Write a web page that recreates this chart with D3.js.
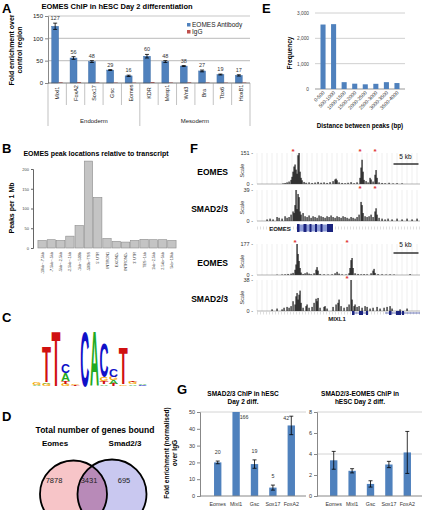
<!DOCTYPE html>
<html><head><meta charset="utf-8">
<script src="https://cdn.jsdelivr.net/npm/d3@7"></script>
<style>body{margin:0;background:#fff} svg{display:block;font-family:"Liberation Sans",Arial,sans-serif}</style>
</head><body><svg id="c" width="424" height="510"></svg>
<script>
// ---------- DATA ----------
// Panel A
const aCategories = ["Mixl1","FoxA2","Sox17","Gsc","Eomes","KDR","Mesp1","Wnt3","Bra","Tbx6","HoxB1"];
const aGroups = [{name:"Endoderm", first:"Mixl1", last:"Eomes"},{name:"Mesoderm", first:"KDR", last:"HoxB1"}];
const aEomes = [127,56,48,29,16,60,48,38,27,19,17];
const aEomesErr = [7,3,2,1,1.5,4,2,1,2,1,1.5];
const aIgG = [1.5,2,1.2,1,0.8,2,1.2,1.5,1.2,0.8,1];
const aTicks = [0,50,100,150];
// Panel E
const eCategories = ["0-500","500-1000","1000-1500","1500-2000","2000-2500","2500-3000","3000-3500","3500-4000"];
const eValues = [2545,2560,270,210,185,205,270,235];
const eTicks = [0,1000,2000,3000];
// Panel B
const bCategories = ["-10kb~-7.5kb","-7.5kb~-5kb","-5kb~-2.5kb","-2.5kb~-1kb","-1kb~-500b","-500b~TSS","5' UTR","INTRON1","EXON2+","INTRON2+","3' UTR","TES~1kb","1kb~2.5kb","2.5kb~5kb","5kb~10kb"];
const bValues = [19,21,19,30,57,220,128,24,17,15,19,22,21,21,19];
const bTicks = [0,50,100,150,200];
// Panel C (sequence logo: letters stacked bottom->top, heights in bits)
const logoColumns = [
  [["A",0.05],["G",0.07]],
  [["G",0.08],["A",0.05],["T",1.25]],
  [["T",1.95]],
  [["G",0.07],["T",0.1],["A",0.28],["C",0.33]],
  [["T",0.05],["G",0.05]],
  [["C",1.95]],
  [["A",1.97]],
  [["A",0.06],["T",0.1],["G",0.14],["C",1.2]],
  [["T",0.08],["A",0.12],["G",0.12],["C",0.28]],
  [["G",0.06],["T",1.3]],
  [["A",0.06],["G",0.08],["T",0.05]],
  [["C",0.05],["A",0.05]]
];
const logoColors = {A:"#22aa22", C:"#1010c8", G:"#f5a800", T:"#d01010"};
// Panel D
const vennSets = ["Eomes","Smad2/3"];
const vennCounts = [7878, 3431, 695];
// Panel F (signal tracks, [kb, signal])
const trackLabels = ["EOMES","SMAD2/3","EOMES","SMAD2/3"];
const trackScales = [151,39,177,38];
const eomesLocusEomes = [[5.2,3],[5.6,5],[6.0,8],[6.4,12],[6.8,20],[7.0,35],[7.2,60],[7.4,85],[7.6,95],[7.8,70],[8.0,50],[8.2,140],[8.4,151],[8.6,60],[8.8,30],[9.0,18],[9.4,10],[9.8,6],[10.4,8],[11.0,5],[11.6,7],[12.2,10],[12.8,6],[13.4,8],[14.0,5],[14.6,9],[15.2,14],[15.6,22],[15.8,26],[16.0,18],[16.4,8],[17.0,5],[17.6,4],[18.2,6],[18.8,9],[19.4,4],[20.0,8],[20.6,30],[20.8,80],[21.0,118],[21.2,60],[21.4,20],[21.8,14],[22.2,8],[22.6,30],[22.8,22],[23.2,12],[23.6,45],[23.8,68],[24.0,30],[24.4,8],[25.0,5],[25.6,4],[26.4,6],[27.2,3],[28.0,4],[29.0,3]];
const eomesLocusSmad = [[2.0,2],[2.6,3],[3.2,2],[4.0,5],[4.4,4],[5.0,3],[5.6,6],[6.0,4],[6.4,5],[6.8,8],[7.2,12],[7.4,10],[7.6,20],[7.8,39],[8.0,15],[8.2,34],[8.4,30],[8.6,12],[8.8,8],[9.2,10],[9.6,6],[10.0,5],[10.4,7],[10.8,4],[11.2,6],[11.6,5],[12.0,4],[12.4,7],[12.8,6],[13.2,5],[13.6,4],[14.0,6],[14.4,5],[14.8,7],[15.2,5],[15.6,4],[16.0,6],[16.4,5],[16.8,4],[17.2,6],[17.6,5],[18.0,4],[18.4,3],[18.8,5],[19.2,4],[19.6,3],[20.0,5],[20.4,8],[20.8,24],[21.0,20],[21.2,10],[21.6,6],[22.0,5],[22.4,6],[22.8,8],[23.2,5],[23.6,12],[23.8,16],[24.0,8],[24.4,4],[25.0,3],[25.6,2],[26.2,3],[27.0,2],[28.0,3],[29.0,2],[30.0,3],[31.0,2],[32.0,3]];
const mixl1LocusEomes = [[4.0,2],[5.0,3],[5.6,4],[6.2,6],[6.8,8],[7.2,12],[7.6,30],[7.8,60],[8.0,177],[8.2,120],[8.4,80],[8.6,40],[8.8,14],[9.2,6],[9.6,10],[10.0,15],[10.4,8],[10.8,5],[11.4,10],[11.8,30],[12.0,45],[12.2,25],[12.6,6],[13.4,4],[14.2,3],[15.0,4],[15.6,10],[16.0,18],[16.4,8],[17.0,4],[17.8,3],[18.4,10],[18.6,40],[18.8,85],[19.0,97],[19.2,40],[19.6,10],[20.2,6],[20.8,4],[21.4,5],[22.0,4],[22.8,10],[23.2,25],[23.4,35],[23.6,12],[24.2,5],[25.0,4],[25.8,3],[26.6,4],[27.4,3],[30.6,5]];
const mixl1LocusSmad = [[3.0,2],[4.0,3],[5.0,2],[5.4,4],[6.0,5],[6.4,4],[6.8,6],[7.2,12],[7.6,8],[7.8,18],[8.0,22],[8.2,14],[8.4,20],[8.6,25],[8.8,10],[9.2,4],[9.8,6],[10.0,8],[10.4,4],[11.0,5],[11.4,10],[11.8,15],[12.0,12],[12.2,16],[12.6,4],[13.4,5],[13.6,6],[14.0,3],[15.2,5],[15.8,8],[16.2,10],[16.4,14],[16.8,6],[17.4,4],[18.0,5],[18.4,8],[18.8,38],[19.0,14],[19.4,6],[19.6,8],[20.0,5],[20.4,6],[21.0,4],[21.6,6],[22.0,5],[22.6,3],[23.2,4],[24.0,5],[24.6,3],[25.4,4],[26.0,5],[26.6,6],[27.0,3],[28.6,2],[30.0,3]];
const trackAsterisks = [[7.2,20.6,23.6],[20.6,23.6],[7.6,18],[18]];
// Panel G
const gCategories = ["Eomes","Mixl1","Gsc","Sox17","FoxA2"];
const gSmadValues = [20,166,19,5,42];
const gSmadErr = [0.8,0,2.5,1.5,5.5];
const gSmadTicks = [0,10,20,30,40,50];
const gComboValues = [3.4,2.4,1.15,3.0,4.15];
const gComboErr = [0.85,0.2,0.3,0.3,2.0];
const gComboTicks = [0,2,4,6,8];

// ---------- HELPERS ----------
const svg = d3.select("#c");
function txt(g, x, y, s, o = {}) {
  const t = g.append("text").attr("x", x).attr("y", y).text(s)
    .attr("font-size", o.size || 7).attr("text-anchor", o.anchor || "middle")
    .attr("fill", o.fill || "#000");
  if (o.bold) t.attr("font-weight", "bold");
  if (o.rotate) t.attr("transform", `rotate(${o.rotate},${x},${y})`);
  return t;
}
function styleAxis(g, size, color) {
  g.attr("font-size", size).attr("font-family", null);
  g.selectAll("text").attr("fill", color || "#222");
}
function errBars(g, xs, ys, errs, y, cap) {
  xs.forEach((x, i) => {
    if (!errs[i]) return;
    const y1 = y(ys[i] - errs[i]), y2 = y(ys[i] + errs[i]);
    g.append("line").attr("x1", x).attr("x2", x).attr("y1", y1).attr("y2", y2).attr("stroke", "#000").attr("stroke-width", 0.8);
    [y1, y2].forEach(yy => g.append("line").attr("x1", x - cap).attr("x2", x + cap).attr("y1", yy).attr("y2", yy).attr("stroke", "#000").attr("stroke-width", 0.8));
  });
}
// panel letters
[["A",2,13],["E",262,13],["B",2,153],["F",190,153],["C",2,322],["D",2,421],["G",177,394]].forEach(([l,x,y]) =>
  txt(svg, x, y, l, {size: 13, bold: true, anchor: "start"}));

// ---------- PANEL A ----------
{
  const g = svg.append("g");
  const x = d3.scaleBand().domain(aCategories).range([48, 250]);
  const y = d3.scaleLinear().domain([0, 150]).range([83, 16]);
  g.selectAll(".gl").data(aTicks.slice(1)).join("line")
    .attr("x1", 48).attr("x2", 250).attr("y1", y).attr("y2", y).attr("stroke", "#c8c8c8").attr("stroke-width", 1.2);
  const ya = g.append("g").attr("transform", "translate(48,0)").call(d3.axisLeft(y).tickValues(aTicks).tickSize(3).tickPadding(2));
  styleAxis(ya, 6); ya.select(".domain").attr("stroke", "#888"); ya.selectAll(".tick line").attr("stroke", "#888");
  txt(g, 117, 9, "EOMES ChIP in hESC Day 2 differentiation", {size: 7.5, bold: true});
  txt(g, 14, 50, "Fold enrichment over", {size: 7, bold: true, rotate: -90});
  txt(g, 22, 50, "control region", {size: 7, bold: true, rotate: -90});
  const bw = x.bandwidth();
  g.selectAll(".be").data(aEomes).join("rect")
    .attr("x", (d, i) => x(aCategories[i]) + bw * 0.2).attr("width", bw * 0.38)
    .attr("y", d => y(d)).attr("height", d => y(0) - y(d)).attr("fill", "#4f81bd").attr("stroke", "#3d6da6").attr("stroke-width", 0.4);
  g.selectAll(".bi").data(aIgG).join("rect")
    .attr("x", (d, i) => x(aCategories[i]) + bw * 0.58).attr("width", bw * 0.22)
    .attr("y", d => y(d)).attr("height", d => y(0) - y(d)).attr("fill", "#c0504d");
  const cx = aCategories.map(c => x(c) + bw * 0.39);
  errBars(g, cx, aEomes, aEomesErr, y, 2);
  aEomes.forEach((v, i) => txt(g, cx[i], y(v + aEomesErr[i]) - 3, v, {size: 5.5, fill: "#333"}));
  g.append("line").attr("x1", 48).attr("x2", 250).attr("y1", y(0)).attr("y2", y(0)).attr("stroke", "#555").attr("stroke-width", 0.8);
  const bounds = aCategories.map(c => x(c)).concat([x.range()[1]]);
  const groupEdges = [x(aGroups[0].first), x(aGroups[1].first), x.range()[1]];
  bounds.forEach(b => g.append("line").attr("x1", b).attr("x2", b).attr("y1", 83)
    .attr("y2", groupEdges.includes(b) ? 126 : 105).attr("stroke", "#999").attr("stroke-width", 0.6));
  aCategories.forEach(c => txt(g, x(c) + bw / 2 + 2, 93, c, {size: 5.5, rotate: -90, fill: "#222"}));
  aGroups.forEach(gr => txt(g, (x(gr.first) + x(gr.last) + bw) / 2, 123, gr.name, {size: 6, fill: "#222"}));
  g.append("rect").attr("x", 184).attr("y", 20).attr("width", 72).attr("height", 16).attr("fill", "#fff");
  [["EOMES Antibody", "#4f81bd"], ["IgG", "#c0504d"]].forEach(([n, col], i) => {
    g.append("rect").attr("x", 187).attr("y", 23 + i * 7).attr("width", 3.5).attr("height", 3.5).attr("fill", col);
    txt(g, 192, 27 + i * 7, n, {size: 6.5, anchor: "start", fill: "#222"});
  });
}

// ---------- PANEL E ----------
{
  const g = svg.append("g");
  const x = d3.scaleBand().domain(eCategories).range([315, 405]).padding(0.52);
  const y = d3.scaleLinear().domain([0, 3000]).range([89, 13]);
  g.selectAll(".gl").data(eTicks).join("line").attr("x1", 315).attr("x2", 405).attr("y1", y).attr("y2", y)
    .attr("stroke", d => d === 0 ? "#999" : "#d0d0d0").attr("stroke-width", 1);
  const ya = g.append("g").attr("transform", "translate(312,0)").call(d3.axisLeft(y).tickValues(eTicks).tickSize(0).tickPadding(3));
  styleAxis(ya, 4.8, "#444"); ya.select(".domain").remove();
  g.selectAll("rect").data(eValues).join("rect").attr("x", (d, i) => x(eCategories[i])).attr("width", x.bandwidth())
    .attr("y", d => y(d)).attr("height", d => y(0) - y(d)).attr("fill", "#4f81bd");
  eCategories.forEach(c => txt(g, x(c) + x.bandwidth() / 2 + 2, 93, c, {size: 5, anchor: "end", rotate: -45, fill: "#333"}));
  txt(g, 292, 53, "Frequency", {size: 6.5, bold: true, rotate: -90});
  txt(g, 360, 128, "Distance between peaks (bp)", {size: 6.3, bold: true});
}

// ---------- PANEL B ----------
{
  const g = svg.append("g");
  const x = d3.scaleBand().domain(bCategories).range([37, 177]).padding(0.1);
  const y = d3.scaleLinear().domain([0, 200]).range([248, 169]);
  const ya = g.append("g").attr("transform", "translate(33,0)").call(d3.axisLeft(y).tickValues(bTicks).tickSize(2).tickPadding(2));
  styleAxis(ya, 4, "#444"); ya.select(".domain").attr("stroke", "#666"); ya.selectAll(".tick line").attr("stroke", "#666");
  g.selectAll("rect").data(bValues).join("rect").attr("x", (d, i) => x(bCategories[i])).attr("width", x.bandwidth())
    .attr("y", d => y(d)).attr("height", d => y(0) - y(d)).attr("fill", "#c4c4c4").attr("stroke", "#8c8c8c").attr("stroke-width", 0.6);
  bCategories.forEach(c => txt(g, x(c) + x.bandwidth() / 2 + 1.5, 252, c, {size: 3.8, anchor: "end", rotate: -90, fill: "#333"}));
  txt(g, 96, 156, "EOMES peak locations relative to transcript", {size: 7, bold: true});
  txt(g, 14, 208, "Peaks per 1 Mb", {size: 7, bold: true, rotate: -90});
}

// ---------- PANEL C ----------
{
  const g = svg.append("g");
  const x0 = 32, colW = 9.6, base = 386, bit = 28.5;
  logoColumns.forEach((col, ci) => {
    let yb = base;
    col.forEach(([letter, h]) => {
      const hp = h * bit;
      const t = g.append("text").text(letter).attr("font-size", 40).attr("font-weight", "bold")
        .attr("fill", logoColors[letter]).attr("font-family", "Liberation Sans, Arial");
      const bb = t.node().getBBox();
      const capTop = -0.72 * 40, capH = 0.72 * 40;
      const w = colW - 0.6;
      t.attr("transform", `translate(${x0 + ci * colW + 0.3},${yb - hp}) scale(${w / bb.width},${hp / capH}) translate(${-bb.x},${-capTop})`);
      yb -= hp;
    });
  });
}

// ---------- PANEL D ----------
{
  const g = svg.append("g");
  txt(g, 95, 433, "Total number of genes bound", {size: 8.5, bold: true});
  txt(g, 55, 446, vennSets[0], {size: 8, bold: true});
  txt(g, 125, 446, vennSets[1], {size: 8, bold: true});
  const c1 = {x: 73.5, y: 494, r: 33.5}, c2 = {x: 112, y: 494, r: 34.5};
  const defs = svg.append("defs");
  defs.append("clipPath").attr("id", "clipL").append("circle").attr("cx", c1.x).attr("cy", c1.y).attr("r", c1.r);
  g.append("circle").attr("cx", c1.x).attr("cy", c1.y).attr("r", c1.r).attr("fill", "#f7c5c8");
  g.append("circle").attr("cx", c2.x).attr("cy", c2.y).attr("r", c2.r).attr("fill", "#c9c8f0");
  g.append("circle").attr("cx", c2.x).attr("cy", c2.y).attr("r", c2.r).attr("fill", "#b88ab8").attr("clip-path", "url(#clipL)");
  [c1, c2].forEach(c => g.append("circle").attr("cx", c.x).attr("cy", c.y).attr("r", c.r).attr("fill", "none").attr("stroke", "#000").attr("stroke-width", 1.8));
  [[54, vennCounts[0]], [89, vennCounts[1]], [124, vennCounts[2]]].forEach(([xx, v]) => txt(g, xx, 483, v, {size: 7.5, fill: "#222"}));
}

// ---------- PANEL F ----------
{
  const g = svg.append("g");
  const x = d3.scaleLinear().domain([0, 32.6]).range([257, 420]);
  const tracks = [eomesLocusEomes, eomesLocusSmad, mixl1LocusEomes, mixl1LocusSmad];
  const tops = [153, 190, 244, 280], h = 31;
  tracks.forEach((data, ti) => {
    const y = d3.scaleLinear().domain([0, trackScales[ti]]).range([tops[ti] + h, tops[ti]]);
    g.selectAll(null).data(x.ticks(40)).join("line").attr("x1", x).attr("x2", x).attr("y1", tops[ti]).attr("y2", tops[ti] + h)
      .attr("stroke", "#e4e4e4").attr("stroke-width", 0.6);
    g.selectAll(null).data(data).join("rect").attr("x", d => x(d[0]) - 0.5).attr("width", 1.1)
      .attr("y", d => y(d[1])).attr("height", d => y(0) - y(d[1])).attr("fill", "#000");
    g.append("line").attr("x1", 257).attr("x2", 420).attr("y1", y(0)).attr("y2", y(0)).attr("stroke", "#444").attr("stroke-width", 0.4);
    txt(g, 253, tops[ti] + 2, trackScales[ti] + " -", {size: 5.5, anchor: "end", fill: "#333"});
    txt(g, 253, tops[ti] + h + 2, "0 -", {size: 5.5, anchor: "end", fill: "#333"});
    txt(g, 244, tops[ti] + h / 2 + 2, "Scale", {size: 5.5, rotate: -90, fill: "#333"});
    txt(g, 228, tops[ti] + h / 2 + 6, trackLabels[ti], {size: 8.5, bold: true, anchor: "end"});
    trackAsterisks[ti].forEach(k => txt(g, x(k), tops[ti] + 1, "*", {size: 8, fill: "#e03030", bold: true}));
  });
  [[159, 164], [247, 253]].forEach(([ty, ly]) => {
    txt(g, x(29.7), ty, "5 kb", {size: 6.5, fill: "#111"});
    g.append("line").attr("x1", x(27.3)).attr("x2", x(32.3)).attr("y1", ly).attr("y2", ly).attr("stroke", "#000").attr("stroke-width", 1.2);
  });
  [228, 313].forEach(gy =>
    g.append("line").attr("x1", 257).attr("x2", 420).attr("y1", gy).attr("y2", gy).attr("stroke", "#ccc").attr("stroke-dasharray", "0.6,2.4").attr("stroke-width", 3));
  txt(g, 280, 231, "EOMES", {size: 6, bold: true, fill: "#111"});
  g.append("rect").attr("x", x(8.0)).attr("y", 224.5).attr("width", x(15.2) - x(8.0)).attr("height", 7).attr("fill", "#8d9bd6");
  [[8.0, 0.5], [9.3, 0.6], [10.5, 0.4], [11.6, 0.4], [12.7, 0.4], [14.0, 1.2]].forEach(([k, w]) =>
    g.append("rect").attr("x", x(k)).attr("y", 224).attr("width", x(k + w) - x(k)).attr("height", 8).attr("fill", "#1a237e"));
  txt(g, 337, 321, "MIXL1", {size: 6, bold: true, fill: "#111"});
  g.append("line").attr("x1", x(19.0)).attr("x2", x(22.2)).attr("y1", 313).attr("y2", 313).attr("stroke", "#3040a0").attr("stroke-width", 0.7);
  g.append("line").attr("x1", x(25.6)).attr("x2", x(32.6)).attr("y1", 313).attr("y2", 313).attr("stroke", "#3040a0").attr("stroke-width", 0.7);
  [[19.0, 0.5], [20.4, 0.8], [21.8, 0.4], [26.4, 0.5], [27.8, 1.0], [29.0, 0.4]].forEach(([k, w]) =>
    g.append("rect").attr("x", x(k)).attr("y", 311).attr("width", x(k + w) - x(k)).attr("height", 4).attr("fill", "#1a237e"));
}

// ---------- PANEL G ----------
{
  const g = svg.append("g");
  function chart(x0, x1, ax, domMax, ticks, vals, errs, labels, titles, tx, grid) {
    const x = d3.scaleBand().domain(gCategories).range([x0, x1]).padding(0.6);
    const y = d3.scaleLinear().domain([0, domMax]).range([496, 412]);
    grid.forEach(v => g.append("line").attr("x1", ax).attr("x2", x1).attr("y1", y(v)).attr("y2", y(v)).attr("stroke", "#d4d4d4"));
    const ya = g.append("g").attr("transform", `translate(${ax},0)`).call(d3.axisLeft(y).tickValues(ticks).tickSize(3).tickPadding(2));
    styleAxis(ya, 5.5, "#333"); ya.select(".domain").attr("stroke", "#888"); ya.selectAll(".tick line").attr("stroke", "#888");
    g.selectAll(null).data(vals).join("rect").attr("x", (d, i) => x(gCategories[i])).attr("width", x.bandwidth())
      .attr("y", d => y(Math.min(d, domMax))).attr("height", d => y(0) - y(Math.min(d, domMax))).attr("fill", "#4f81bd");
    const cx = gCategories.map(c => x(c) + x.bandwidth() / 2);
    errBars(g, cx, vals, errs, y, 2);
    g.append("line").attr("x1", ax).attr("x2", x1).attr("y1", y(0)).attr("y2", y(0)).attr("stroke", "#888");
    gCategories.forEach(c => txt(g, x(c) + x.bandwidth() / 2, 506, c, {size: 5.3, fill: "#333"}));
    if (labels) vals.forEach((v, i) => {
      const top = Math.min(v + errs[i], domMax);
      const lx = v > domMax ? cx[i] + 8 : (i === 4 ? cx[i] - 5 : cx[i]);
      const ly = v > domMax ? y(domMax) + 7 : (i === 4 ? y(top) + 4 : y(top) - 7);
      txt(g, lx, ly, v, {size: 5.3, fill: "#333"});
    });
    titles.forEach((t, i) => txt(g, tx, 396 + i * 8, t, {size: 6.5, bold: true}));
  }
  chart(203, 306, 200, 50, gSmadTicks, gSmadValues, gSmadErr, true, ["SMAD2/3 ChIP  in hESC", "Day 2 diff."], 243, [50]);
  chart(319, 422, 317, 8, gComboTicks, gComboValues, gComboErr, false, ["SMAD2/3-EOMES ChIP in", "hESC Day 2 diff."], 360, [4, 8]);
  txt(g, 169, 453, "Fold enrichment (normalised)", {size: 6.5, bold: true, rotate: -90});
  txt(g, 177, 453, "over IgG", {size: 6.5, bold: true, rotate: -90});
}
</script></body></html>
